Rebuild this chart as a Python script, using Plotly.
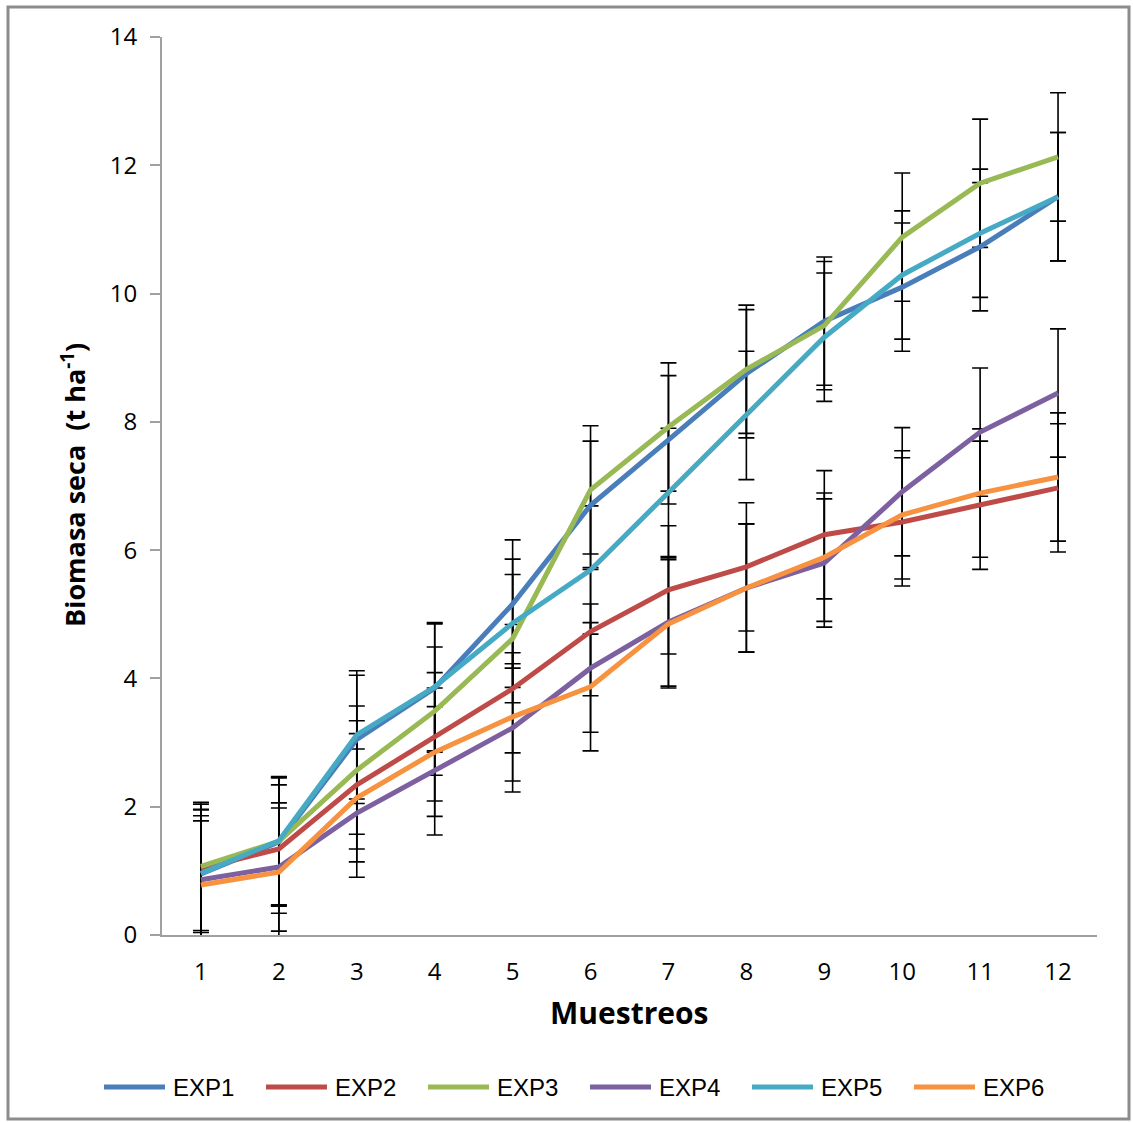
import plotly.graph_objects as go

muestreos = list(range(1, 13))
series_names = ["EXP1", "EXP2", "EXP3", "EXP4", "EXP5", "EXP6"]
colors = ["#4A7EBB", "#BE4B48", "#98B954", "#7D60A0", "#46AAC5", "#F69240"]

exp1 = [0.95, 1.45, 3.05, 3.85, 5.16, 6.70, 7.72, 8.75, 9.57, 10.10, 10.73, 11.51]
exp2 = [1.04, 1.34, 2.34, 3.09, 3.84, 4.73, 5.38, 5.74, 6.24, 6.44, 6.70, 6.97]
exp3 = [1.07, 1.46, 2.57, 3.49, 4.62, 6.94, 7.92, 8.82, 9.50, 10.88, 11.72, 12.13]
exp4 = [0.86, 1.06, 1.90, 2.56, 3.23, 4.16, 4.88, 5.41, 5.80, 6.91, 7.84, 8.45]
exp5 = [0.96, 1.47, 3.12, 3.87, 4.86, 5.69, 6.90, 8.10, 9.32, 10.29, 10.94, 11.51]
exp6 = [0.78, 0.98, 2.14, 2.85, 3.40, 3.87, 4.85, 5.41, 5.89, 6.55, 6.89, 7.14]
errores = [1.0] * 12

series = [exp1, exp2, exp3, exp4, exp5, exp6]

fig = go.Figure()

# error bars first (below lines)
for name, vals in zip(series_names, series):
    fig.add_trace(go.Scatter(
        x=muestreos, y=vals, mode="markers",
        marker=dict(size=1, opacity=0),
        error_y=dict(type="data", array=errores, visible=True,
                     color="#000000", thickness=1.6, width=8),
        showlegend=False, hoverinfo="skip"))

for name, vals, c in zip(series_names, series, colors):
    fig.add_trace(go.Scatter(
        x=muestreos, y=vals, mode="lines", name=name,
        line=dict(color=c, width=5), showlegend=False))

# plot area in pixels
L, R, T, B = 162, 1097, 37, 935
W, H = 1133, 1122
pw, ph = R - L, B - T

def px(x):
    return (x - L) / pw

def py(y):
    return (B - y) / ph

shapes = [dict(type="rect", xref="paper", yref="paper",
               x0=px(8), x1=px(1129), y0=py(7), y1=py(1119),
               line=dict(color="#8C8C8C", width=3), fillcolor="rgba(0,0,0,0)")]
annotations = [
    dict(text="<b>Muestreos</b>", xref="paper", yref="paper", x=px(629), y=py(1012),
         showarrow=False, font=dict(family="Open Sans", size=30, color="#000000"),
         xanchor="center", yanchor="middle"),
    dict(text="<b>Biomasa seca  (t ha<sup>-1</sup>)</b>", xref="paper", yref="paper",
         x=px(73), y=py(485), textangle=-90, showarrow=False,
         font=dict(family="Open Sans", size=27, color="#000000"),
         xanchor="center", yanchor="middle"),
]

# legend drawn manually
leg_x0, leg_step, leg_y = 104, 162, 1087
for i, (name, c) in enumerate(zip(series_names, colors)):
    x0 = leg_x0 + i * leg_step
    shapes.append(dict(type="line", xref="paper", yref="paper",
                       x0=px(x0), x1=px(x0 + 61), y0=py(leg_y), y1=py(leg_y),
                       line=dict(color=c, width=5)))
    annotations.append(dict(text=name, xref="paper", yref="paper",
                            x=px(x0 + 67), y=py(leg_y), showarrow=False,
                            xanchor="left", yanchor="middle",
                            font=dict(family="Liberation Sans", size=24, color="#000000")))

fig.update_layout(
    width=W, height=H,
    margin=dict(l=L, r=W - R, t=T, b=H - B),
    paper_bgcolor="white", plot_bgcolor="white",
    shapes=shapes, annotations=annotations,
    xaxis=dict(range=[0.5, 12.5], tickvals=muestreos, ticktext=[str(m) for m in muestreos],
               showgrid=False, zeroline=False, showline=True, linecolor="#A0A0A0", linewidth=2,
               ticks="", tickfont=dict(family="Open Sans", size=24, color="#000000"),
               ticklabelstandoff=14),
    yaxis=dict(range=[0, 14], dtick=2, showgrid=False, zeroline=False, showline=True,
               linecolor="#A0A0A0", linewidth=2, ticks="outside", ticklen=10, tickwidth=2,
               tickcolor="#A0A0A0", tickfont=dict(family="Open Sans", size=24, color="#000000"),
               ticklabelstandoff=8),
)

fig.write_html("out.html", config={"displayModeBar": False})

# remove default page margin so the figure sits at the window origin
with open("out.html", "r", encoding="utf-8") as f:
    html = f.read()
html = html.replace("<head>", "<head><style>html,body{margin:0;padding:0;overflow:hidden;}</style>", 1)
with open("out.html", "w", encoding="utf-8") as f:
    f.write(html)
